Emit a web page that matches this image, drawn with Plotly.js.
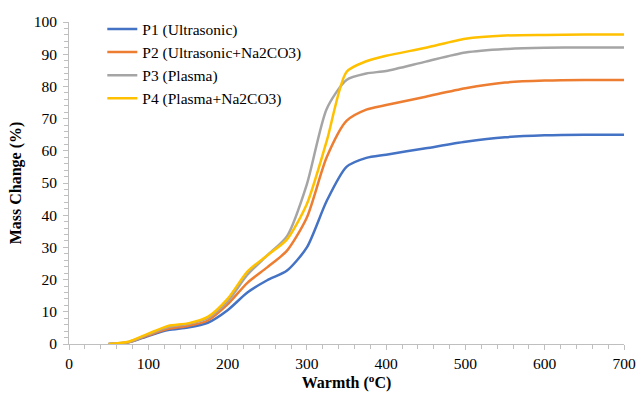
<!DOCTYPE html>
<html>
<head>
<meta charset="utf-8">
<script src="https://cdn.plot.ly/plotly-3.0.1.min.js"></script>
<style>html,body{margin:0;padding:0;background:#fff;}#chart{width:636px;height:394px;}</style>
</head>
<body>
<div id="chart"></div>
<script>
const temps = [50, 75, 100, 125, 150, 175, 200, 225, 250, 275, 300, 325, 350, 375, 400, 450, 500, 550, 600, 650, 700];
const p1 = [0, 0.5, 2.5, 4.3, 5.1, 6.6, 10.5, 16, 19.8, 22.8, 30, 44.4, 55, 57.8, 58.8, 60.8, 62.8, 64.2, 64.8, 65, 65];
const p2 = [0, 0.5, 2.7, 4.7, 5.6, 7.3, 12.3, 19, 23.8, 29, 39.3, 58, 69.3, 72.8, 74.2, 76.8, 79.4, 81.2, 81.8, 82, 82];
const p3 = [0, 0.6, 3.0, 5.3, 6.2, 8.0, 13.2, 21.5, 27.5, 33.5, 49.6, 73, 82, 84, 84.8, 87.7, 90.5, 91.6, 92, 92.1, 92.1];
const p4 = [0, 0.7, 3.2, 5.6, 6.4, 8.4, 14, 22.5, 27.5, 32.5, 43.5, 63, 84.5, 87.8, 89.5, 92, 94.8, 95.8, 96, 96.1, 96.1];
const names = ["P1 (Ultrasonic)", "P2 (Ultrasonic+Na2CO3)", "P3 (Plasma)", "P4 (Plasma+Na2CO3)"];
const colors = ["#4472C4", "#ED7D31", "#A5A5A5", "#FFC000"];
const series = [p1, p2, p3, p4];

const traces = series.map((s, i) => ({
  x: temps, y: s, name: names[i], type: "scatter", mode: "lines",
  line: {color: colors[i], width: 2.5, shape: "spline", smoothing: 0.7}
}));

const fam = "Liberation Serif";
const layout = {
  width: 636, height: 394,
  margin: {l: 69, r: 12, t: 20, b: 50},
  paper_bgcolor: "#fff", plot_bgcolor: "#fff",
  font: {family: fam, size: 16, color: "#000"},
  showlegend: true,
  legend: {x: 0.06, y: 1.03, xanchor: "left", yanchor: "top", bgcolor: "rgba(0,0,0,0)",
    font: {family: fam, size: 15.5, color: "#000"}, tracegroupgap: 0, itemwidth: 30},
  xaxis: {
    range: [0, 700], dtick: 100, tick0: 0, showgrid: false, zeroline: false,
    showline: true, linecolor: "#BFBFBF", linewidth: 1,
    ticks: "outside", ticklen: 5, tickcolor: "#BFBFBF",
    minor: {dtick: 20, ticks: "outside", ticklen: 4, tickcolor: "#BFBFBF", showgrid: false},
    tickfont: {family: fam, size: 15.5, color: "#000"},
    ticklabelstandoff: 0,
    title: {text: "<b>Warmth (<sup>o</sup>C)</b>", font: {family: fam, size: 16, color: "#000"}, standoff: 6}
  },
  yaxis: {
    range: [0, 100], dtick: 10, tick0: 0, showgrid: false, zeroline: false,
    showline: true, linecolor: "#BFBFBF", linewidth: 1,
    ticks: "outside", ticklen: 5, tickcolor: "#BFBFBF",
    minor: {dtick: 2, ticks: "outside", ticklen: 4, tickcolor: "#BFBFBF", showgrid: false},
    tickfont: {family: fam, size: 15.5, color: "#000"},
    ticklabelstandoff: 3,
    title: {text: "<b>Mass Change (%)</b>", font: {family: fam, size: 16, color: "#000"}, standoff: 8}
  }
};
Plotly.newPlot("chart", traces, layout, {displayModeBar: false, staticPlot: true});
</script>
</body>
</html>
